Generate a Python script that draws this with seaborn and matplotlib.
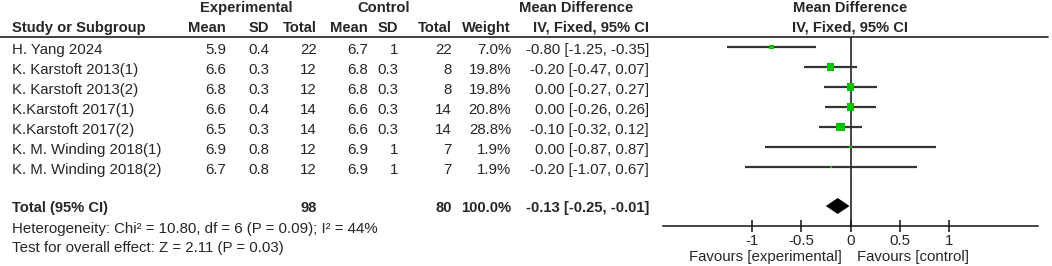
import matplotlib
matplotlib.use("Agg")
import matplotlib.pyplot as plt
import seaborn as sns
import pandas as pd
import numpy as np

# ---------------- data ----------------
studies = ["H. Yang 2024", "K. Karstoft 2013(1)", "K. Karstoft 2013(2)",
           "K.Karstoft 2017(1)", "K.Karstoft 2017(2)",
           "K. M. Winding 2018(1)", "K. M. Winding 2018(2)"]
exp_mean = [5.9, 6.6, 6.8, 6.6, 6.5, 6.9, 6.7]
exp_sd = [0.4, 0.3, 0.3, 0.4, 0.3, 0.8, 0.8]
exp_n = [22, 12, 12, 14, 14, 12, 12]
ctl_mean = [6.7, 6.8, 6.8, 6.6, 6.6, 6.9, 6.9]
ctl_sd = [1, 0.3, 0.3, 0.3, 0.3, 1, 1]
ctl_n = [22, 8, 8, 14, 14, 7, 7]
weight = [7.0, 19.8, 19.8, 20.8, 28.8, 1.9, 1.9]
md = [-0.80, -0.20, 0.00, 0.00, -0.10, 0.00, -0.20]
ci_lo = [-1.25, -0.47, -0.27, -0.26, -0.32, -0.87, -1.07]
ci_hi = [-0.35, 0.07, 0.27, 0.26, 0.12, 0.87, 0.67]
total_exp_n = 98
total_ctl_n = 80
total_weight = 100.0
total_md = -0.13
total_lo = -0.25
total_hi = -0.01
heterogeneity = "Heterogeneity: Chi\u00b2 = 10.80, df = 6 (P = 0.09); I\u00b2 = 44%"
overall = "Test for overall effect: Z = 2.11 (P = 0.03)"
xticks = [-1, -0.5, 0, 0.5, 1]
xtick_labels = ["-1", "-0.5", "0", "0.5", "1"]
fav_left = "Favours [experimental]"
fav_right = "Favours [control]"

# ---------------- style ----------------
sns.set_theme(style="white")
plt.rcParams["font.family"] = ["Liberation Sans", "DejaVu Sans"]
plt.rcParams["axes.unicode_minus"] = False

W, H = 1052, 266
fig = plt.figure(figsize=(W / 100, H / 100), dpi=100)
fig.patch.set_facecolor("white")

# background axes in pixel coordinates for the table
bg = fig.add_axes([0, 0, 1, 1])
bg.set_xlim(0, W)
bg.set_ylim(H, 0)
bg.axis("off")

FS = 10.8
FSB = 10.6
TXT = "#262626"
row_base = 54     # baseline of first row text
row_step = 20
mark_y0 = 47      # y of first forest row

def t(x, y, s, ha="right", bold=False):
    bg.text(x, y, s, ha=ha, va="baseline", fontsize=FSB if bold else FS, color=TXT,
            fontweight="bold" if bold else "normal")

# headers
t(246, 12, "Experimental", ha="center", bold=True)
t(384, 12, "Control", ha="center", bold=True)
t(576, 12, "Mean Difference", ha="center", bold=True)
t(850, 12, "Mean Difference", ha="center", bold=True)
t(12, 32, "Study or Subgroup", ha="left", bold=True)
t(226, 32, "Mean", bold=True)
t(269, 32, "SD", bold=True)
t(317, 32, "Total", bold=True)
t(368, 32, "Mean", bold=True)
t(398, 32, "SD", bold=True)
t(452, 32, "Total", bold=True)
t(511, 32, "Weight", bold=True)
t(649, 32, "IV, Fixed, 95% CI", bold=True)
t(850, 32, "IV, Fixed, 95% CI", ha="center", bold=True)
bg.plot([0, 1048], [37, 37], color="#202020", lw=1.2)

for i, name in enumerate(studies):
    y = row_base + row_step * i
    t(12, y, name, ha="left")
    t(226, y, f"{exp_mean[i]:g}")
    t(269, y, f"{exp_sd[i]:g}")
    t(317, y, f"{exp_n[i]}")
    t(368, y, f"{ctl_mean[i]:g}")
    t(398, y, f"{ctl_sd[i]:g}")
    t(452, y, f"{ctl_n[i]}")
    t(511, y, f"{weight[i]:.1f}%")
    t(649, y, f"{md[i]:.2f} [{ci_lo[i]:.2f}, {ci_hi[i]:.2f}]")

yt = 212
t(12, yt, "Total (95% CI)", ha="left", bold=True)
t(317, yt, f"{total_exp_n}", bold=True)
t(452, yt, f"{total_ctl_n}", bold=True)
t(511, yt, f"{total_weight:.1f}%", bold=True)
t(649, yt, f"{total_md:.2f} [{total_lo:.2f}, {total_hi:.2f}]", bold=True)
t(12, 233, heterogeneity, ha="left")
t(12, 252, overall, ha="left")
t(842, 261, fav_left, ha="right")
t(857, 261, fav_right, ha="left")

# ---------------- forest axes ----------------
x_left, x_right = 663, 1038
y_top, y_bot = 37, 226
ax = fig.add_axes([x_left / W, (H - y_bot) / H, (x_right - x_left) / W, (y_bot - y_top) / H])
ax.patch.set_alpha(0)
ax.set_xlim(-1.9, 1.9)
ax.set_ylim(y_bot, y_top)

df = pd.DataFrame({"study": studies, "md": md, "lo": ci_lo, "hi": ci_hi, "weight": weight})
df["y"] = [mark_y0 + row_step * i for i in range(len(df))]

ax.axvline(0, color="#111111", lw=1.1, zorder=1)
ax.hlines(df["y"], df["lo"], df["hi"], color="#333333", lw=1.6, zorder=2)
sns.scatterplot(data=df, x="md", y="y", size="weight", sizes=(1.9 * 1.4, 28.8 * 1.4),
                size_norm=(1.9, 28.8), marker="s", color="#00c400", linewidth=0,
                legend=False, ax=ax, zorder=3)

yd = 206
hd = 8
ax.fill([total_lo, total_md, total_hi, total_md], [yd, yd - hd, yd, yd + hd],
        color="black", lw=0, zorder=4)

for s in ["top", "left", "right"]:
    ax.spines[s].set_visible(False)
ax.spines["bottom"].set_color("#111111")
ax.spines["bottom"].set_linewidth(1.1)
ax.set_xticks(xticks)
ax.set_xticklabels(xtick_labels)
ax.tick_params(axis="x", direction="inout", length=9, width=1.1, color="#111111",
               labelsize=FS, labelcolor=TXT, pad=1, bottom=True)
ax.set_yticks([])
ax.set_xlabel("")
ax.set_ylabel("")

fig.savefig("out.png", dpi=100, facecolor="white")
